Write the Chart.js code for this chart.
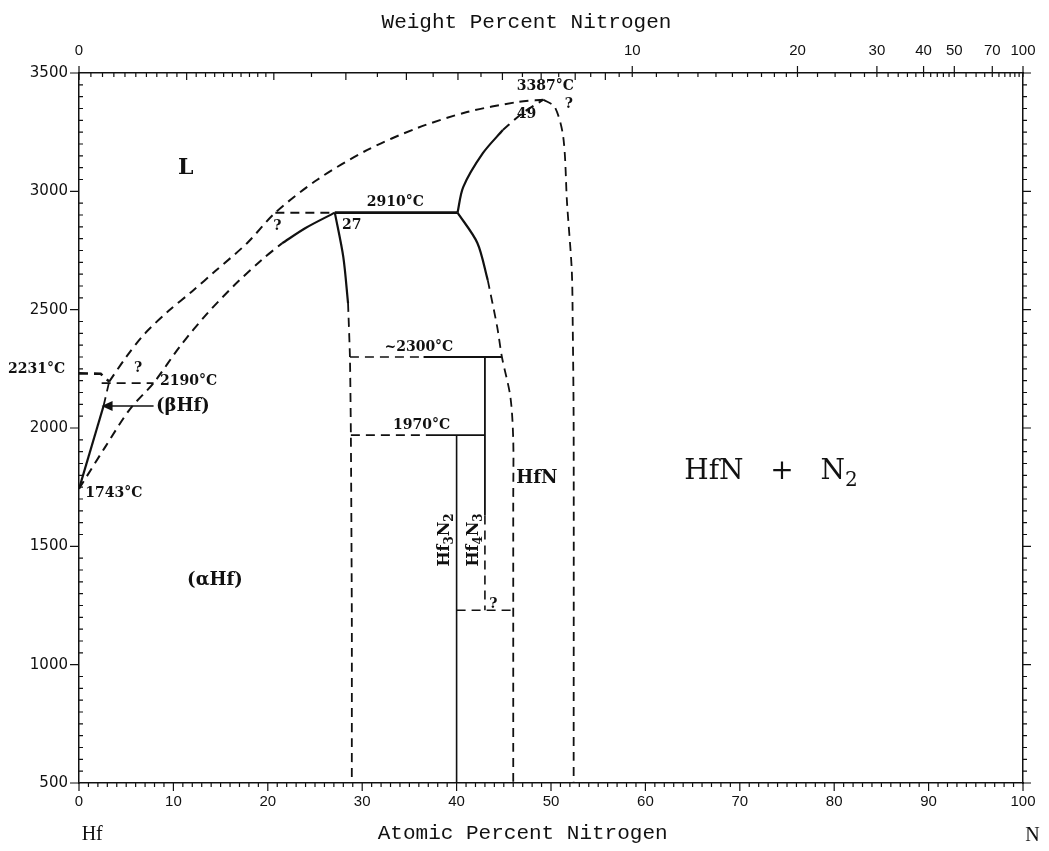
<!DOCTYPE html>
<html>
<head>
<meta charset="utf-8">
<script src="https://cdn.jsdelivr.net/npm/chart.js@4.4.1/dist/chart.umd.min.js"></script>
<style>
  html, body { margin: 0; padding: 0; background: #fff; }
  #wrap { width: 1049px; height: 851px; }
</style>
</head>
<body>
<div id="wrap"><canvas id="chart" width="1049" height="851"></canvas></div>
<script>
// Phase boundaries as [atomic % N, temperature °C].
const hfMelt = [[0, 2231], [2.3, 2229], [3.2, 2196]];
const peritectic2190 = [[2.4, 2190], [7.9, 2190]];
const betaSolid = [[0, 1743], [2.6, 2093]];
const betaDashed = [[2.6, 2093], [3.2, 2196]];
const betaArrow = [[2.6, 2093], [7.9, 2093]];
const alphaLowerDashed = [[0, 1743], [2.7, 1915], [5.4, 2080], [7.9, 2190], [10.7, 2345], [13.5, 2480], [16.5, 2605], [19.4, 2712], [21.5, 2780]];
const alphaLowerSolid = [[21.5, 2780], [24.0, 2845], [27.1, 2910]];
const liquidus = [[3.2, 2196], [5.0, 2300], [7.0, 2400], [9.5, 2495], [12.0, 2578], [14.5, 2665], [17.8, 2781], [20.8, 2910], [25.2, 3048], [30.5, 3174], [35.8, 3267], [41.1, 3335], [46.4, 3377], [49.2, 3387]];
const iso2910Dashed = [[20.8, 2910], [27.1, 2910]];
const iso2910Solid = [[27.1, 2910], [40.1, 2910]];
const alphaRightSolid = [[27.1, 2910], [28.0, 2722], [28.5, 2528]];
const alphaRightDashed = [[28.5, 2528], [28.7, 2300], [28.8, 1970], [28.9, 1200], [28.9, 500]];
const hfnUpperSolid = [[40.1, 2910], [40.7, 3018], [42.8, 3162], [44.9, 3259]];
const hfnUpperDashed = [[44.9, 3259], [47.0, 3331], [49.2, 3387]];
const hfnLowerSolid = [[40.1, 2910], [42.2, 2782], [43.3, 2625]];
const hfnLowerDashed = [[43.3, 2625], [44.3, 2427], [44.8, 2300], [45.7, 2131], [46.0, 1949], [46.0, 1700], [46.0, 500]];
const hfnRight = [[49.2, 3387], [50.4, 3356], [51.3, 3229], [51.7, 2950], [52.2, 2667], [52.3, 2443], [52.4, 2000], [52.4, 500]];
const iso2300Dashed = [[28.7, 2300], [36.5, 2300]];
const iso2300Solid = [[36.5, 2300], [44.8, 2300]];
const iso1970Dashed = [[28.8, 1970], [37.5, 1970]];
const iso1970Solid = [[37.5, 1970], [43.0, 1970]];
const hf4n3Solid = [[43.0, 2300], [43.0, 1630]];
const hf4n3Dashed = [[43.0, 1630], [43.0, 1230]];
const hf3n2 = [[40.0, 1970], [40.0, 500]];
const iso1230 = [[40.0, 1230], [46.0, 1230]];

// Axis ticks
const atTicks = [0, 10, 20, 30, 40, 50, 60, 70, 80, 90, 100];
const tempTicks = [500, 1000, 1500, 2000, 2500, 3000, 3500];
const wtLabels = [0, 10, 20, 30, 40, 50, 70, 100];

// Labels inside the diagram: text runs ([text, isSubscript]) at [at.%, °C]
const notes = [
    { runs: [['L', 0]], at: [11.3, 3099], font: 'bold 22px "DejaVu Serif"' },
    { runs: [['2910°C', 0]], at: [33.5, 2953] },
    { runs: [['27', 0]], at: [28.9, 2856] },
    { runs: [['?', 0]], at: [21.0, 2853] },
    { runs: [['3387°C', 0]], at: [49.4, 3445] },
    { runs: [['49', 0]], at: [47.4, 3327] },
    { runs: [['?', 0]], at: [51.9, 3369] },
    { runs: [['~2300°C', 0]], at: [36.0, 2340] },
    { runs: [['1970°C', 0]], at: [36.3, 2010] },
    { runs: [['2190°C', 0]], at: [11.6, 2196] },
    { runs: [['?', 0]], at: [6.25, 2253] },
    { runs: [['(βHf)', 0]], at: [11.0, 2093], font: 'bold 18px "DejaVu Serif"' },
    { runs: [['1743°C', 0]], at: [3.7, 1722] },
    { runs: [['(αHf)', 0]], at: [14.4, 1358], font: 'bold 18px "DejaVu Serif"' },
    { runs: [['HfN', 0]], at: [48.5, 1789], font: 'bold 18px "DejaVu Serif"' },
    { runs: [['HfN   +   N', 0], ['2', 1]], at: [73.3, 1814], font: '28px "DejaVu Serif"' },
    { runs: [['Hf', 0], ['3', 1], ['N', 0], ['2', 1]], at: [38.8, 1527], rotate: true },
    { runs: [['Hf', 0], ['4', 1], ['N', 0], ['3', 1]], at: [41.8, 1527], rotate: true },
    { runs: [['?', 0]], at: [43.9, 1256] },
    { runs: [['2231°C', 0]], at: [-4.5, 2249] }
];

function wtToAt(w) {
    if (w >= 100) return 100;
    const n = w / 14.007, hf = (100 - w) / 178.49;
    return 100 * n / (n + hf);
}

// minor weight-percent tick values along the top axis
function wtMinorTicks() {
    const out = [];
    const steps = [[0, 2, 0.1], [2, 10, 0.5], [10, 20, 1], [20, 50, 2], [50, 100, 5]];
    steps.forEach(([a, b, s]) => {
        for (let v = a; v < b - 1e-9; v += s) out.push(Math.round(v * 100) / 100);
    });
    return out;
}
const wtMinor = wtMinorTicks();

const INK = '#111';
const LABEL_FONT = 'bold 14px "DejaVu Serif"';

function seg(points, dashed, width, tension) {
    return {
        data: points.map(p => ({ x: p[0], y: p[1] })),
        showLine: true,
        pointRadius: 0,
        borderColor: INK,
        borderWidth: width || 2,
        borderDash: dashed ? [9, 6] : [],
        tension: tension || 0,
        fill: false
    };
}

function drawRuns(ctx, runs, x, y, font) {
    ctx.font = font;
    const size = parseFloat(font.match(/(\d+(\.\d+)?)px/)[1]);
    const subFont = font.replace(/(\d+(\.\d+)?)px/, Math.round(size * 0.72) + 'px');
    let total = 0;
    runs.forEach(([t, sub]) => {
        ctx.font = sub ? subFont : font;
        total += ctx.measureText(t).width;
    });
    let cx = x - total / 2;
    ctx.textAlign = 'left';
    ctx.textBaseline = 'middle';
    runs.forEach(([t, sub]) => {
        ctx.font = sub ? subFont : font;
        ctx.fillText(t, cx, sub ? y + size * 0.3 : y);
        cx += ctx.measureText(t).width;
    });
}

const decor = {
    id: 'decor',
    afterDraw(chart) {
        const { ctx, chartArea: a, scales } = chart;
        const X = v => scales.x.getPixelForValue(v);
        const Y = v => scales.y.getPixelForValue(v);
        ctx.save();
        ctx.strokeStyle = INK;
        ctx.lineWidth = 1.2;
        ctx.beginPath();
        for (let i = 0; i <= 100; i++) {
            const px = X(i);
            ctx.moveTo(px, a.bottom);
            ctx.lineTo(px, a.bottom + (i % 10 === 0 ? 8 : 4));
        }
        for (let t = 500; t <= 3500; t += 50) {
            const py = Y(t);
            const major = t % 500 === 0;
            if (major) { ctx.moveTo(a.left - 9, py); ctx.lineTo(a.left, py); }
            else { ctx.moveTo(a.left, py); ctx.lineTo(a.left + 4, py); }
            ctx.moveTo(a.right, py);
            ctx.lineTo(a.right + (major ? 8 : 4), py);
        }
        wtMinor.forEach(w => {
            const px = X(wtToAt(w));
            const len = (w < 10 && Math.abs(w - Math.round(w)) < 1e-6) ? 7 : 4;
            ctx.moveTo(px, a.top);
            ctx.lineTo(px, a.top + len);
        });
        wtLabels.forEach(w => {
            const px = X(wtToAt(w));
            ctx.moveTo(px, a.top - 7);
            ctx.lineTo(px, a.top + 4);
        });
        ctx.stroke();

        // arrow head pointing into the (βHf) field
        const ax = X(betaArrow[0][0]), ay = Y(betaArrow[0][1]);
        ctx.fillStyle = INK;
        ctx.beginPath();
        ctx.moveTo(ax - 2, ay);
        ctx.lineTo(ax + 9, ay - 5);
        ctx.lineTo(ax + 9, ay + 5);
        ctx.closePath();
        ctx.fill();

        notes.forEach(n => {
            const px = X(n.at[0]), py = Y(n.at[1]);
            const font = n.font || LABEL_FONT;
            if (n.rotate) {
                ctx.save();
                ctx.translate(px, py);
                ctx.rotate(-Math.PI / 2);
                drawRuns(ctx, n.runs, 0, 0, 'bold 16px "DejaVu Serif"');
                ctx.restore();
            } else {
                drawRuns(ctx, n.runs, px, py, font);
            }
        });

        // axis titles and end members
        ctx.font = '21px "Liberation Mono"';
        ctx.textAlign = 'center';
        ctx.textBaseline = 'middle';
        ctx.fillText('Weight Percent Nitrogen', X(47.4), a.top - 51);
        ctx.fillText('Atomic Percent Nitrogen', X(47.0), a.bottom + 50);
        ctx.font = '20px "Liberation Serif"';
        ctx.fillText('Hf', X(1.4), a.bottom + 52);
        ctx.fillText('N', X(101.0), a.bottom + 53);
        ctx.restore();
    }
};

const tickFont = { family: '"Liberation Sans", sans-serif', size: 15 };
const tempFont = { family: '"DejaVu Sans", sans-serif', size: 15 };
const axisBorder = { display: true, color: INK, width: 1.5 };
const plain = v => String(v);

new Chart(document.getElementById('chart'), {
    type: 'scatter',
    data: {
        datasets: [
            seg(hfMelt, true, 2.6, 0),
            seg(peritectic2190, true, 1.8),
            seg(betaSolid, false, 2.2),
            seg(betaDashed, true, 1.8),
            seg(betaArrow, false, 1.6),
            seg(alphaLowerDashed, true, 2, 0.3),
            seg(alphaLowerSolid, false, 2.2, 0.3),
            seg(liquidus, true, 2, 0.3),
            seg(iso2910Dashed, true, 2),
            seg(iso2910Solid, false, 2.6),
            seg(alphaRightSolid, false, 2.2, 0.3),
            seg(alphaRightDashed, true, 1.8, 0.2),
            seg(hfnUpperSolid, false, 2.2, 0.3),
            seg(hfnUpperDashed, true, 2, 0.3),
            seg(hfnLowerSolid, false, 2.2, 0.3),
            seg(hfnLowerDashed, true, 1.8, 0.3),
            seg(hfnRight, true, 1.8, 0.3),
            seg(iso2300Dashed, true, 1.6),
            seg(iso2300Solid, false, 1.8),
            seg(iso1970Dashed, true, 1.6),
            seg(iso1970Solid, false, 1.8),
            seg(hf4n3Solid, false, 1.8),
            seg(hf4n3Dashed, true, 1.6),
            seg(hf3n2, false, 1.6),
            seg(iso1230, true, 1.6)
        ]
    },
    options: {
        responsive: false,
        animation: false,
        devicePixelRatio: 1,
        layout: { padding: 0 },
        plugins: { legend: { display: false }, tooltip: { enabled: false } },
        scales: {
            x: {
                type: 'linear', position: 'bottom', min: 0, max: 100,
                afterBuildTicks: s => { s.ticks = atTicks.map(v => ({ value: v })); },
                afterFit: s => { s.height = 68; },
                ticks: { color: INK, font: tickFont, padding: 10, maxRotation: 0, autoSkip: false, callback: plain },
                grid: { display: false, drawTicks: false },
                border: axisBorder
            },
            x2: {
                type: 'linear', position: 'top', min: 0, max: 100,
                afterBuildTicks: s => { s.ticks = wtLabels.map(w => ({ value: wtToAt(w) })); },
                afterFit: s => { s.height = 73; },
                ticks: {
                    color: INK, font: tickFont, padding: 13, maxRotation: 0, autoSkip: false,
                    callback: (v, i) => String(wtLabels[i])
                },
                grid: { display: false, drawTicks: false },
                border: axisBorder
            },
            y: {
                type: 'linear', position: 'left', min: 500, max: 3500,
                afterBuildTicks: s => { s.ticks = tempTicks.map(v => ({ value: v })); },
                afterFit: s => { s.width = 79; },
                ticks: { color: INK, font: tempFont, padding: 11, callback: plain },
                grid: { display: false, drawTicks: false },
                border: axisBorder
            },
            y2: {
                type: 'linear', position: 'right', min: 500, max: 3500,
                afterFit: s => { s.width = 26; },
                ticks: { display: false },
                grid: { display: false, drawTicks: false },
                border: axisBorder
            }
        }
    },
    plugins: [decor]
});
</script>
</body>
</html>
